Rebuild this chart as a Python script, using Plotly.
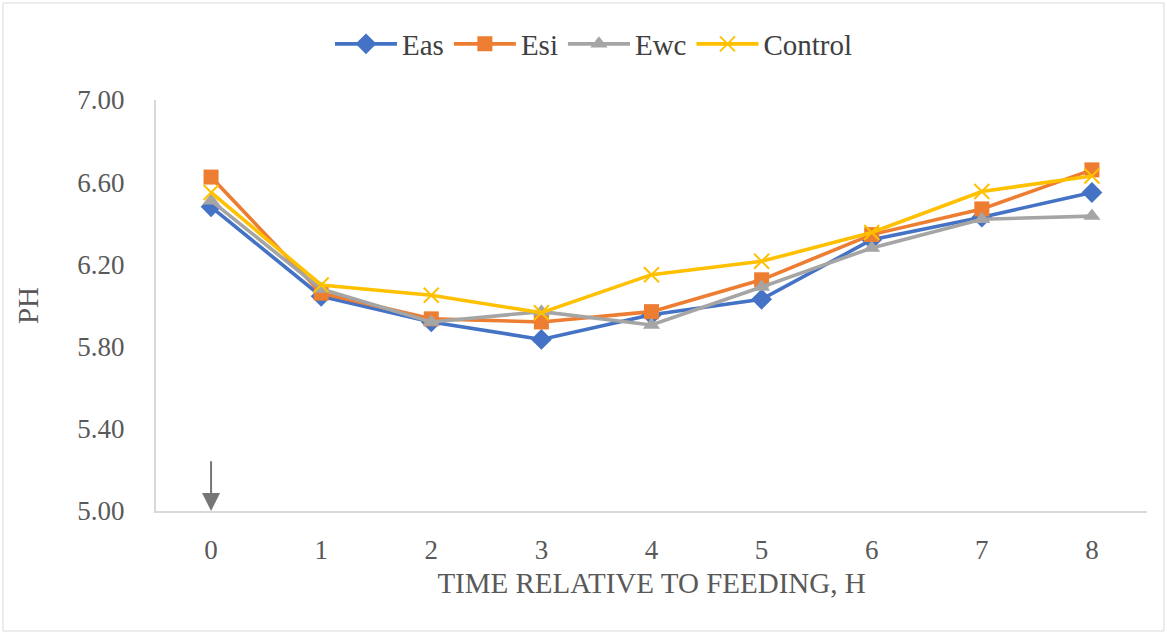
import plotly.graph_objects as go

hours = ["0", "1", "2", "3", "4", "5", "6", "7", "8"]
eas = [6.48, 6.045, 5.92, 5.835, 5.955, 6.03, 6.32, 6.43, 6.55]
esi = [6.625, 6.06, 5.935, 5.92, 5.97, 6.125, 6.345, 6.47, 6.66]
ewc = [6.51, 6.08, 5.92, 5.97, 5.905, 6.09, 6.28, 6.42, 6.435]
control = [6.55, 6.10, 6.05, 5.965, 6.15, 6.215, 6.355, 6.555, 6.63]

y_ticks = [5.0, 5.4, 5.8, 6.2, 6.6, 7.0]
y_tick_text = ["5.00", "5.40", "5.80", "6.20", "6.60", "7.00"]

series = [
    ("Eas", eas, "#4472C4", "diamond", 16),
    ("Esi", esi, "#ED7D31", "square", 15),
    ("Ewc", ewc, "#A5A5A5", "triangle-up", 15),
    ("Control", control, "#FFC000", "x-thin", 15),
]

FONT = "Liberation Serif"
GREY = "#595959"

fig = go.Figure()
for name, vals, color, sym, size in series:
    marker = dict(symbol=sym, size=size, color=color)
    if sym == "x-thin":
        marker["line"] = dict(color=color, width=2)
    fig.add_trace(go.Scatter(
        x=hours, y=vals, name=name, mode="lines+markers",
        line=dict(color=color, width=3.6),
        marker=marker,
    ))

W, H = 1167, 634
ml, mr, mt, mb = 156, 20, 100, 123
pw = W - ml - mr
ph = H - mt - mb

fig.add_annotation(
    x="0", y=5.0, ax="0", ay=5.25, xref="x", yref="y", axref="x", ayref="y",
    showarrow=True, arrowhead=2, arrowsize=1.8, arrowwidth=2, arrowcolor="#767676",
    text="",
)

fig.add_shape(
    type="rect", xref="paper", yref="paper",
    x0=(3 - ml) / pw, x1=(1164 - ml) / pw,
    y0=(H - mb - 631) / ph, y1=(H - mb - 3) / ph,
    line=dict(color="#D9D9D9", width=1), fillcolor="rgba(0,0,0,0)", layer="below",
)

fig.update_layout(
    template="none",
    width=W, height=H,
    margin=dict(l=ml, r=mr, t=mt, b=mb),
    paper_bgcolor="white", plot_bgcolor="white",
    font=dict(family=FONT, size=27, color=GREY),
    showlegend=True,
    legend=dict(
        orientation="h", x=(594 - ml) / pw, xanchor="center",
        y=(H - mb - 44) / ph, yanchor="middle",
        font=dict(family="Liberation Serif, serif", size=29, color="#404040"),
        itemwidth=62, tracegroupgap=0, bgcolor="rgba(0,0,0,0)",
    ),
    xaxis=dict(
        type="category", range=[-0.5, 8.5],
        showline=True, linecolor="#D9D9D9", linewidth=2,
        showgrid=False, zeroline=False, ticks="",
        tickfont=dict(family=FONT, size=27, color=GREY),
        ticklabelstandoff=14,
        title=dict(text="TIME RELATIVE TO FEEDING, H", standoff=8,
                   font=dict(family=FONT, size=29, color=GREY)),
    ),
    yaxis=dict(
        range=[5.0, 7.0], tickvals=y_ticks, ticktext=y_tick_text,
        showline=True, linecolor="#D9D9D9", linewidth=2,
        showgrid=False, zeroline=False, ticks="",
        tickfont=dict(family=FONT, size=27, color=GREY),
        ticklabelstandoff=24,
        title=dict(text="PH", standoff=30,
                   font=dict(family=FONT, size=29, color=GREY)),
    ),
)

fig.write_html("out.html")
